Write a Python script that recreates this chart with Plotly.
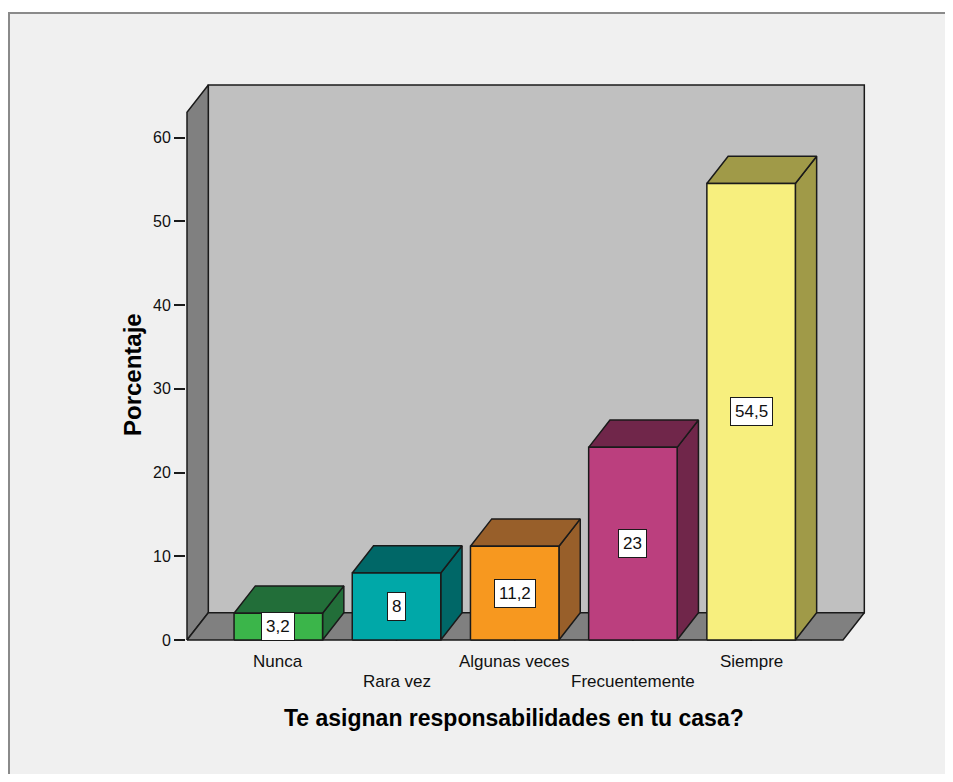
import plotly.graph_objects as go

# ---- data ----
categories = ["Nunca", "Rara vez", "Algunas veces", "Frecuentemente", "Siempre"]
values = [3.2, 8, 11.2, 23, 54.5]
y_ticks = [0, 10, 20, 30, 40, 50, 60]
front_colors = ["#3BB54A", "#00A8A8", "#F7981F", "#BB3F7E", "#F7EF7E"]
shade_colors = ["#226E39", "#006767", "#985F2A", "#70264A", "#A09A48"]
label_row = [0, 1, 0, 1, 0]  # staggered category labels

OFF = 8                 # default page margin of the html body
W, H = 953 - 2 * OFF, 782 - 2 * OFF


def fx(p):  # page pixel -> paper x
    return (p - OFF) / W


def fy(p):  # page pixel -> paper y
    return 1 - (p - OFF) / H


# plot area in page pixels
PL, PR, PT, PB = 186, 867, 83, 641
# axis ranges (data units)
X_RANGE = [-0.7809, 4.9805]
Y_RANGE = [-0.1194, 66.507]

# 3D geometry (in axis units)
BAR_W = 0.7487
DX = 0.1802
DY = 3.26
WALL_X0 = -0.7724
WALL_X1 = 4.7775
WALL_TOP = 66.27
EDGE = dict(color="#1a1a1a", width=1.5)
FONT = "Liberation Sans, Arial, sans-serif"

fig = go.Figure()


def poly(xs, ys, fill):
    fig.add_trace(go.Scatter(
        x=list(xs) + [xs[0]], y=list(ys) + [ys[0]], mode="lines",
        fill="toself", fillcolor=fill, line=EDGE, hoverinfo="skip",
        showlegend=False))


# back wall
poly([WALL_X0 + DX, WALL_X1 + DX, WALL_X1 + DX, WALL_X0 + DX],
     [DY, DY, WALL_TOP, WALL_TOP], "#C0C0C0")
# left wall
poly([WALL_X0, WALL_X0, WALL_X0 + DX, WALL_X0 + DX],
     [0, WALL_TOP - DY, WALL_TOP, DY], "#808080")
# floor
poly([WALL_X0, WALL_X1, WALL_X1 + DX, WALL_X0 + DX],
     [0, 0, DY, DY], "#808080")

# bars
for i, (cat, v) in enumerate(zip(categories, values)):
    l, r = i - BAR_W / 2, i + BAR_W / 2
    poly([r, r + DX, r + DX, r], [0, DY, v + DY, v], shade_colors[i])      # side
    poly([l, r, r + DX, l + DX], [v, v, v + DY, v + DY], shade_colors[i])  # top
    poly([l, r, r, l], [0, 0, v, v], front_colors[i])                      # front

annotations = []
shapes = []

# frame
shapes.append(dict(type="rect", xref="paper", yref="paper",
                   x0=fx(9), x1=1.05, y0=-0.05, y1=fy(13),
                   fillcolor="#F0F0F0", line=dict(color="#8a8a8a", width=2),
                   layer="below"))

# value labels
for i, v in enumerate(values):
    txt = (f"{v:g}").replace(".", ",")
    annotations.append(dict(x=i, y=v / 2, xref="x", yref="y", text=txt,
                            showarrow=False, bgcolor="white",
                            xanchor="center", yanchor="middle",
                            bordercolor="#1a1a1a", borderwidth=1, borderpad=4,
                            font=dict(family=FONT, size=17, color="#111")))

# category labels and staggered ticks
for i, cat in enumerate(categories):
    row = label_row[i]
    ln = 8 if row == 0 else 29
    shapes.append(dict(type="line", xref="x", yref="y", ysizemode="pixel",
                       yanchor=0, x0=i, x1=i, y0=0, y1=-ln,
                       line=dict(color="#1a1a1a", width=1.5)))
    annotations.append(dict(x=i, y=0, xref="x", yref="y", text=cat,
                            showarrow=False, xanchor="center", yanchor="middle",
                            yshift=-21 if row == 0 else -41,
                            font=dict(family=FONT, size=17, color="#111")))

# axis titles
annotations.append(dict(x=fx(132), y=fy(375), xref="paper", yref="paper",
                        text="<b>Porcentaje</b>", textangle=-90,
                        xanchor="center", yanchor="middle", showarrow=False,
                        font=dict(family=FONT, size=24, color="#000")))
annotations.append(dict(x=fx(514), y=fy(718), xref="paper", yref="paper",
                        text="<b>Te asignan responsabilidades en tu casa?</b>",
                        xanchor="center", yanchor="middle", showarrow=False,
                        font=dict(family=FONT, size=23, color="#000")))

fig.update_layout(
    width=W, height=H,
    margin=dict(l=0, r=0, t=0, b=0, autoexpand=False),
    paper_bgcolor="white", plot_bgcolor="rgba(0,0,0,0)",
    xaxis=dict(domain=[fx(PL), fx(PR)], range=X_RANGE, showgrid=False,
               zeroline=False, showline=False, showticklabels=False,
               ticks="", fixedrange=True),
    yaxis=dict(domain=[fy(PB), fy(PT)], range=Y_RANGE,
               showgrid=False, zeroline=False, showline=False,
               tickvals=y_ticks, ticktext=[str(t) for t in y_ticks],
               ticks="outside", ticklen=11, tickwidth=1.5, tickcolor="#1a1a1a",
               tickfont=dict(family=FONT, size=16, color="#111"),
               fixedrange=True),
    shapes=shapes, annotations=annotations, showlegend=False,
)

fig.write_html("out.html")
